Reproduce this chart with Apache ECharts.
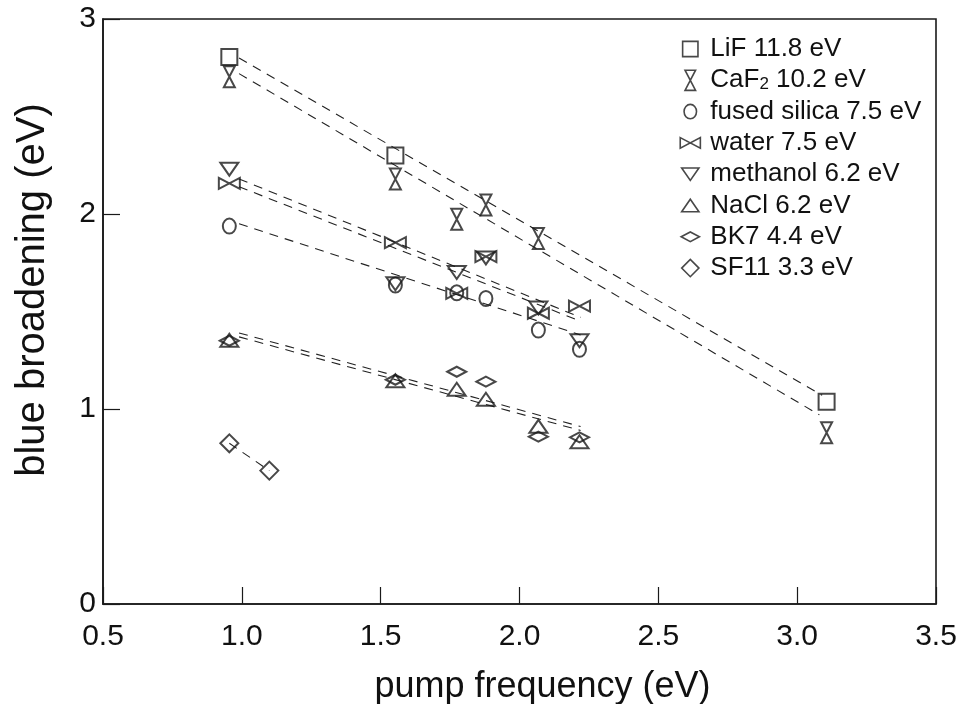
<!DOCTYPE html>
<html>
<head>
<meta charset="utf-8">
<script src="https://cdn.jsdelivr.net/npm/echarts@6/dist/echarts.min.js"></script>
<style>html,body{margin:0;padding:0;background:#fff}#c{width:967px;height:704px}</style>
</head>
<body>
<div id="c"></div>
<script>
// ---- data ----
const seriesNames = ['LiF 11.8 eV','CaF2 10.2 eV','fused silica 7.5 eV','water 7.5 eV','methanol 6.2 eV','NaCl 6.2 eV','BK7 4.4 eV','SF11 3.3 eV'];
const xTicks = [0.5,1.0,1.5,2.0,2.5,3.0,3.5];
const yTicks = [0,1,2,3];

const lif      = [[0.955,2.805],[1.553,2.300],[3.106,1.037]];
const caf2     = [[0.955,2.704],[1.553,2.179],[1.774,1.973],[1.879,2.046],[2.068,1.875],[3.106,0.878]];
const silica   = [[0.955,1.938],[1.553,1.636],[1.774,1.596],[1.879,1.567],[2.068,1.405],[2.216,1.306]];
const water    = [[0.955,2.157],[1.553,1.853],[1.774,1.593],[1.879,1.781],[2.068,1.491],[2.216,1.528]];
const methanol = [[0.955,2.230],[1.553,1.642],[1.774,1.700],[1.879,1.775],[2.068,1.518],[2.216,1.350]];
const nacl     = [[0.955,1.353],[1.553,1.145],[1.774,1.101],[1.879,1.050],[2.068,0.911],[2.216,0.832]];
const bk7      = [[0.955,1.350],[1.553,1.150],[1.774,1.191],[1.879,1.140],[2.068,0.858],[2.216,0.855]];
const sf11     = [[0.955,0.824],[1.099,0.684]];

// dashed fit lines (end points)
const fitLiF      = [[0.99,2.80],[3.09,1.07]];
const fitCaF2     = [[0.99,2.72],[3.08,0.97]];
const fitWater    = [[0.99,2.18],[2.22,1.47]];
const fitMethanol = [[0.99,2.14],[2.22,1.45]];
const fitSilica   = [[0.99,1.95],[2.22,1.38]];
const fitBK7      = [[0.99,1.39],[2.22,0.91]];
const fitNaCl     = [[0.99,1.37],[2.22,0.89]];
const fitSF11     = [[0.955,0.824],[1.099,0.684]];

// ---- symbols (24x24 frame, corner move-tos keep the frame) ----
const F = 'M0,0 M24,24 ';
const sym = {
  square:   'path://' + F + 'M4,4 L20,4 L20,20 L4,20 Z',
  hourglass:'path://' + F + 'M6.5,1.5 L17.5,1.5 L6.5,22.5 L17.5,22.5 Z',
  circle:   'path://' + F + 'M5.5,12 A6.5,7.5 0 1,1 18.5,12 A6.5,7.5 0 1,1 5.5,12 Z',
  bowtie:   'path://' + F + 'M1.5,6.5 L22.5,17.5 L22.5,6.5 L1.5,17.5 Z',
  down:     'path://' + F + 'M3,5.5 L21,5.5 L12,18.5 Z',
  up:       'path://' + F + 'M3,18.5 L21,18.5 L12,5.5 Z',
  flat:     'path://' + F + 'M2.5,12 L12,7 L21.5,12 L12,17 Z',
  diamond:  'path://' + F + 'M3,12 L12,3 L21,12 L12,21 Z'
};

const pointSets = [lif, caf2, silica, water, methanol, nacl, bk7, sf11];
const symbolList = [sym.square, sym.hourglass, sym.circle, sym.bowtie, sym.down, sym.up, sym.flat, sym.diamond];
const fits = [fitLiF, fitCaF2, fitWater, fitMethanol, fitSilica, fitBK7, fitNaCl, fitSF11];

const INK = '#1a1a1a';
const FONT = 'Liberation Sans, Arial, sans-serif';
const series = [];
fits.forEach(function (f, i) {
  series.push({
    type: 'line', name: 'fit' + i, data: f, symbol: 'none', silent: true, z: 1,
    lineStyle: { color: '#222', width: 1.1, type: [9, 7] }, animation: false
  });
});
pointSets.forEach(function (d, i) {
  series.push({
    type: 'scatter', name: seriesNames[i], data: d, symbol: symbolList[i], symbolSize: 24,
    symbolKeepAspect: true, z: 3,
    itemStyle: { color: 'rgba(0,0,0,0)', borderColor: INK, borderWidth: 2 },
    emphasis: { disabled: true }, animation: false
  });
});

const chart = echarts.init(document.getElementById('c'), null, { renderer: 'canvas' });
chart.setOption({
  backgroundColor: '#fff',
  animation: false,
  textStyle: { fontFamily: FONT },
  grid: { left: 103, top: 19, right: 31, bottom: 100, show: true, borderColor: INK, borderWidth: 1.6, backgroundColor: 'transparent', containLabel: false, outerBoundsMode: 'none' },
  legend: {
    data: seriesNames,
    orient: 'vertical', left: 673, top: 31,
    itemWidth: 30, itemHeight: 23, itemGap: 5.3,
    symbolKeepAspect: true,
    itemStyle: { color: 'rgba(0,0,0,0)', borderColor: INK, borderWidth: 1.6 },
    textStyle: {
      fontSize: 26, color: '#111', fontFamily: FONT,
      rich: {
        a: { fontSize: 26, color: '#111', fontFamily: FONT },
        s: { fontSize: 17, color: '#111', fontFamily: FONT, padding: [9, 0, 0, 0] }
      }
    },
    formatter: function (n) {
      if (n === 'CaF2 10.2 eV') return '{a|CaF}{s|2}{a| 10.2 eV}';
      return n;
    },
    selectedMode: false
  },
  xAxis: {
    type: 'value', min: 0.5, max: 3.5, interval: 0.5,
    name: 'pump frequency (eV)', nameLocation: 'middle', nameGap: 65,
    nameTextStyle: { fontSize: 36, color: '#111', padding: [0, 0, 0, 46] },
    axisLine: { show: true, lineStyle: { color: INK, width: 1.6 } },
    axisTick: { show: true, inside: true, length: 17, lineStyle: { color: INK, width: 1.2 } },
    axisLabel: { fontSize: 30, color: '#111', margin: 18, formatter: function (v) { return xTicks.indexOf(v) >= 0 ? v.toFixed(1) : ''; } },
    splitLine: { show: false }
  },
  yAxis: {
    type: 'value', min: 0, max: 3, interval: 1,
    name: 'blue broadening (eV)', nameLocation: 'middle', nameGap: 50,
    nameTextStyle: { fontSize: 40, color: '#111', padding: [0, 0, 0, 43] },
    axisLine: { show: true, lineStyle: { color: INK, width: 1.6 } },
    axisTick: { show: true, inside: true, length: 17, lineStyle: { color: INK, width: 1.2 } },
    axisLabel: { fontSize: 30, color: '#111', margin: 7, formatter: function (v) { return yTicks.indexOf(v) >= 0 ? String(v) : ''; } },
    splitLine: { show: false }
  },
  series: series
});
</script>
</body>
</html>
